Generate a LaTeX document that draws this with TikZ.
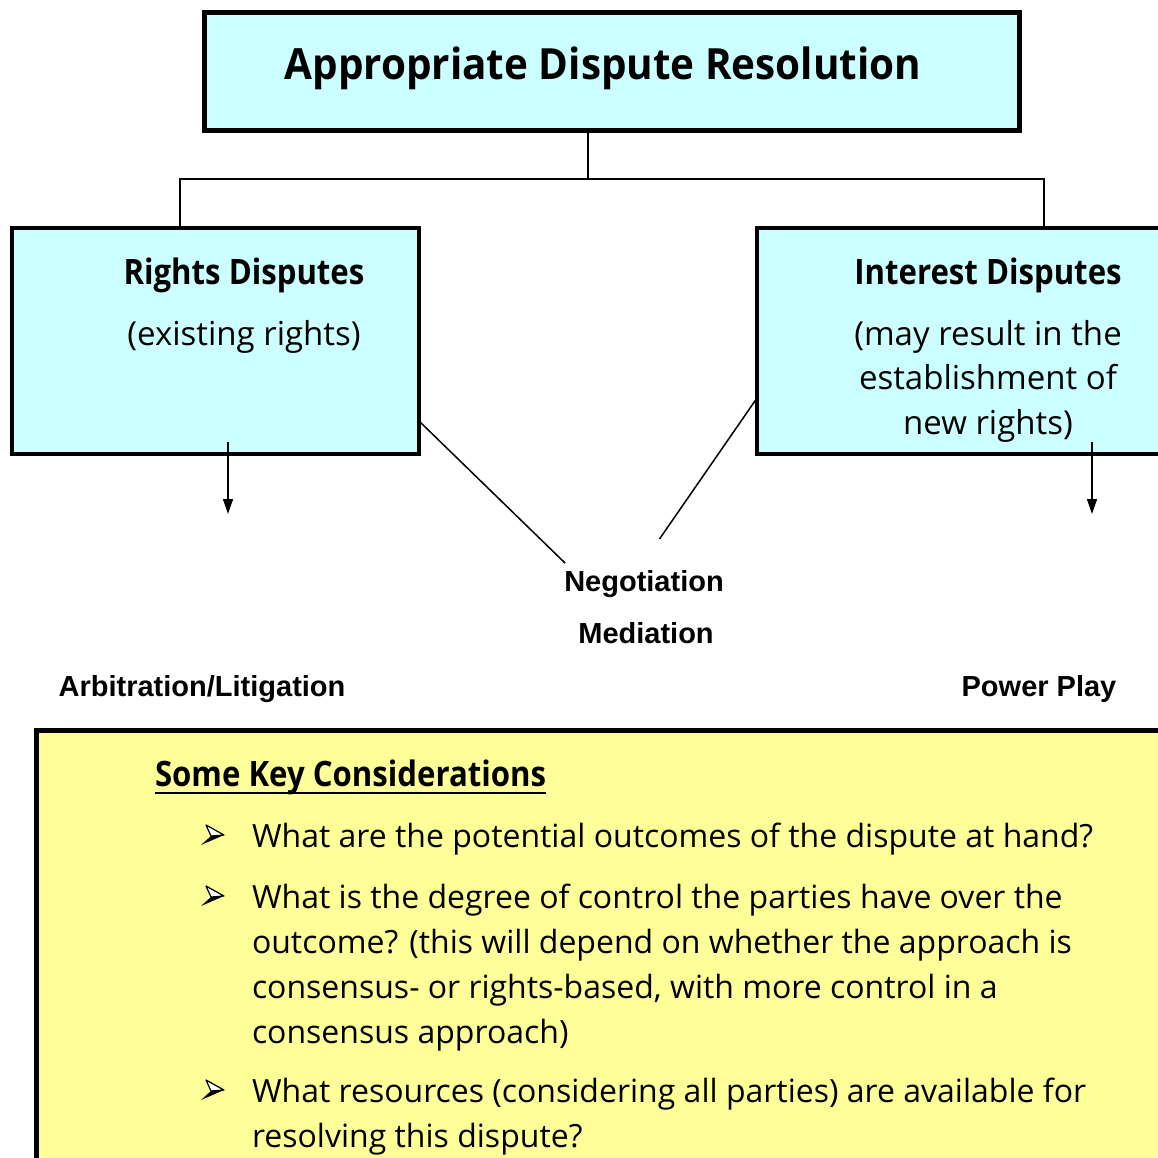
\documentclass[tikz,border=0pt]{standalone}
\usepackage{fontspec}
\usetikzlibrary{arrows.meta}
\newfontfamily\handfont{Open Sans}
\newfontfamily\titlehand{Open Sans}[FakeStretch=0.94]
\newfontfamily\headhand{Open Sans}[FakeStretch=0.89]
\newfontfamily\labelfont{Liberation Sans}
\definecolor{boxcyan}{HTML}{CCFFFF}
\definecolor{boxyellow}{HTML}{FFFF99}
\tikzset{
  panel/.style={draw=black, anchor=north west, inner sep=0pt, outer sep=0pt},
  txt/.style={anchor=base, inner sep=0pt, outer sep=0pt},
  ltxt/.style={anchor=base west, inner sep=0pt, outer sep=0pt},
  link/.style={line width=1.5pt},
  down/.style={line width=1.5pt, -{Triangle[length=15pt, width=10pt]}},
  titlefont/.style={font=\titlehand\bfseries\fontsize{43}{50}\selectfont},
  headfont/.style={font=\headhand\bfseries\fontsize{35}{42}\selectfont},
  subfont/.style={font=\handfont\fontsize{33}{40}\selectfont},
  bodyfont/.style={font=\handfont\fontsize{32}{40}\selectfont},
  methodfont/.style={font=\labelfont\bfseries\fontsize{29}{34}\selectfont},
  pics/bulletarrow/.style={code={
    \fill[black] (8,-10) -- (21,-11) -- (-2,-1) -- cycle;
    \draw[line width=1.2pt, line join=round, fill=white] (8,-10) -- (3,-21) -- (21,-11) -- cycle;
  }},
}
\begin{document}
\begin{tikzpicture}[x=1pt, y=-1pt]
\useasboundingbox (0,0) rectangle (1158,1158);

% top box
\node[panel, line width=5pt, fill=boxcyan, minimum width=815pt, minimum height=118pt] (title) at (204.5,12.5) {};
\node[txt, titlefont] (titletext) at (603,80) {Appropriate Dispute Resolution};

% the two kinds of dispute
\node[panel, line width=4pt, fill=boxcyan, minimum width=407pt, minimum height=226pt] (rights) at (12,228) {};
\node[panel, line width=4pt, fill=boxcyan, minimum width=420pt, minimum height=226pt] (interest) at (757,228) {};

\node[txt, headfont] (rightshead) at (244,284) {Rights Disputes};
\node[txt, subfont] (rightssub) at (244,345) {(existing rights)};

\node[txt, headfont] (interesthead) at (988,284) {Interest Disputes};
\node[txt, subfont] (interestsubA) at (988,345) {(may result in the};
\node[txt, subfont] (interestsubB) at (988,389) {establishment of};
\node[txt, subfont] (interestsubC) at (988,434) {new rights)};

% tree connector
\coordinate (jmid) at (588,179);
\coordinate (jleft) at (180,179);
\coordinate (jright) at (1044,179);
\draw[link] (title.south -| jmid) -- (jmid);
\draw[link] (rights.north -| jleft) -- (jleft) -- (jright) -- (interest.north -| jright);

% methods
\node[txt, methodfont] (negotiation) at (644,591) {Negotiation};
\node[txt, methodfont] (mediation) at (646,643) {Mediation};
\node[txt, methodfont] (arbitration) at (202,696) {Arbitration/Litigation};
\node[txt, methodfont] (powerplay) at (1039,696) {Power Play};

\coordinate (negL) at (565,563);
\coordinate (negR) at (659.5,539);
\draw[link] (rights.east |- 0,421) -- (negL);
\draw[link] (interest.west |- 0,398) -- (negR);

\coordinate (arbtop) at (228,514);
\coordinate (powtop) at (1092,514);
\draw[down] (arbtop |- 0,442) -- (arbtop);
\draw[down] (powtop |- 0,442) -- (powtop);

% considerations panel
\node[panel, line width=5pt, fill=boxyellow, minimum width=1150pt, minimum height=450pt] (consider) at (36.5,730.5) {};
\node[ltxt, headfont] (conshead) at (155,786) {Some Key Considerations};
\draw[line width=2.5pt] (conshead.west |- 0,793) -- (conshead.east |- 0,793);

\foreach \y in {846,907,1101} {
  \pic at (203,\y) {bulletarrow};
}
\node[ltxt, bodyfont] (itemA) at (252,847) {What are the potential outcomes of the dispute at hand?};
\node[ltxt, bodyfont] (itemBa) at (252,908) {What is the degree of control the parties have over the};
\node[ltxt, bodyfont] (itemBb) at (252,953) {outcome? (this will depend on whether the approach is};
\node[ltxt, bodyfont] (itemBc) at (252,998) {consensus- or rights-based, with more control in a};
\node[ltxt, bodyfont] (itemBd) at (252,1043) {consensus approach)};
\node[ltxt, bodyfont] (itemCa) at (252,1102) {What resources (considering all parties) are available for};
\node[ltxt, bodyfont] (itemCb) at (252,1147) {resolving this dispute?};
\end{tikzpicture}
\end{document}
